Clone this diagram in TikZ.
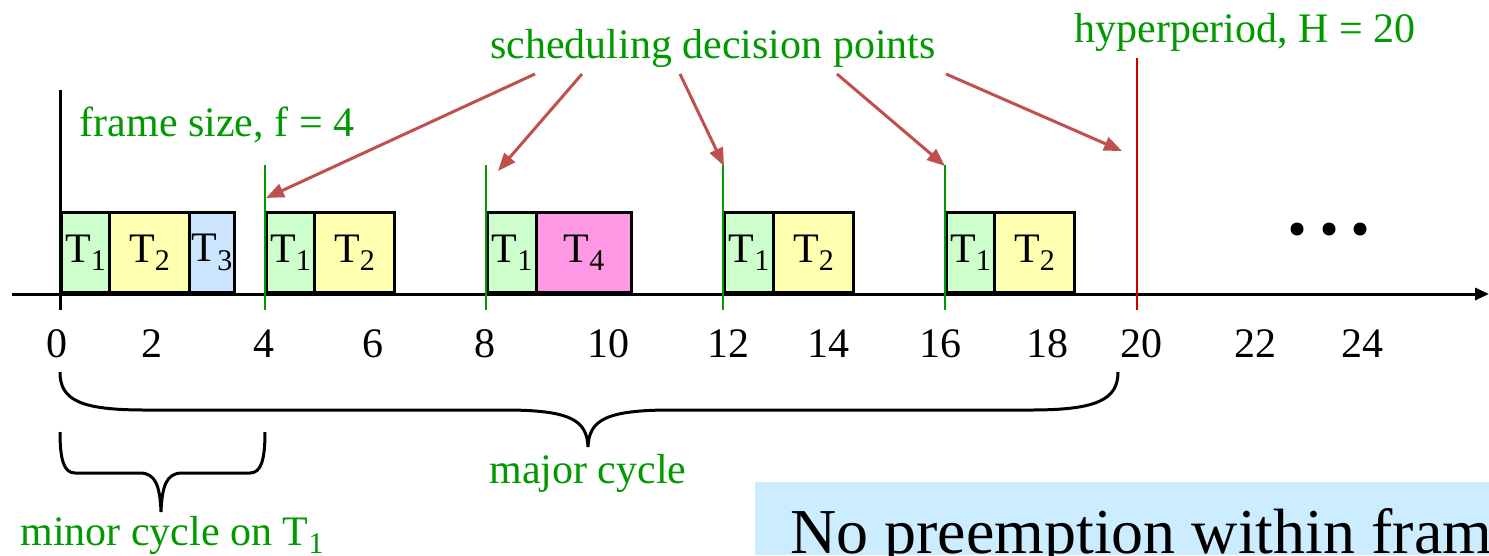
\documentclass[tikz,border=0pt]{standalone}
\usepackage{fontspec}
\setmainfont{Liberation Serif}
\usetikzlibrary{arrows.meta}
\definecolor{grn}{RGB}{0,153,0}
\definecolor{arr}{RGB}{192,80,77}
\definecolor{hred}{RGB}{204,0,0}
\definecolor{cTa}{RGB}{204,255,204}
\definecolor{cTb}{RGB}{255,255,176}
\definecolor{cTc}{RGB}{204,229,255}
\definecolor{cTd}{RGB}{255,153,230}
\definecolor{notebg}{RGB}{204,236,255}
\newcommand{\tsub}[1]{\raisebox{-0.2em}{\fontsize{30}{30}\selectfont #1}}
\begin{document}
\begin{tikzpicture}[x=1pt,y=-1pt,
  lbl/.style={font=\fontsize{42}{48}\selectfont, inner sep=0pt, anchor=base},
  glbl/.style={lbl, text=grn},
  task/.style={draw=black, line width=3pt, minimum height=80pt, anchor=south west, inner sep=0pt, font=\fontsize{42}{48}\selectfont},
  gline/.style={draw=grn, line width=2.5pt},
  rarrow/.style={draw=arr, line width=3pt, -{Triangle[length=18pt,width=14pt]}},
  brace/.style={draw=black, line width=3pt}]
\useasboundingbox (0,0) rectangle (1489,555);
\begin{scope}
\clip (0,0) rectangle (1489,555);
% note box
\fill[notebg] (755,482) rectangle (1489,555);
\node[inner sep=0pt, anchor=base west, font=\fontsize{64}{70}\selectfont] (note) at (790,553) {No preemption within fram};

% labels
\node[glbl] (sdp) at (713,58) {scheduling decision points};
\node[glbl] (hyp) at (1245,42) {hyperperiod, H = 20};
\node[glbl] (fs) at (217,136) {frame size, f = 4};

% black vertical
\coordinate (v0t) at (60,90);
\coordinate (v0b) at (60,310);
\draw[line width=3pt] (v0t) -- (v0b);

% axis
\coordinate (ax0) at (12,294);
\coordinate (ax1) at (1489,294);

% tasks
\node[task, fill=cTa, minimum width=48pt] (a1) at (60,294) {T\tsub{1}};
\node[task, fill=cTb, minimum width=80pt] (a2) at (108,294) {T\tsub{2}};
\node[task, fill=cTc, minimum width=45pt] (a3) at (188,294) {T\tsub{3}};
\node[task, fill=cTa, minimum width=48pt] (b1) at (265,294) {T\tsub{1}};
\node[task, fill=cTb, minimum width=80pt] (b2) at (313,294) {T\tsub{2}};
\node[task, fill=cTa, minimum width=49pt] (c1) at (486,294) {T\tsub{1}};
\node[task, fill=cTd, minimum width=95pt] (c4) at (535,294) {T\tsub{4}};
\node[task, fill=cTa, minimum width=49pt] (d1) at (723,294) {T\tsub{1}};
\node[task, fill=cTb, minimum width=80pt] (d2) at (772,294) {T\tsub{2}};
\node[task, fill=cTa, minimum width=48pt] (e1) at (945,294) {T\tsub{1}};
\node[task, fill=cTb, minimum width=80pt] (e2) at (993,294) {T\tsub{2}};

\draw[line width=3pt, -{Triangle[length=14pt,width=12pt]}] (ax0) -- (ax1);

% green decision lines
\coordinate (g4t) at (265,165); \coordinate (g4b) at (265,310);
\coordinate (g8t) at (486,165); \coordinate (g8b) at (486,310);
\coordinate (g12t) at (723,165); \coordinate (g12b) at (723,310);
\coordinate (g16t) at (945,165); \coordinate (g16b) at (945,310);
\draw[gline] (g4t) -- (g4b);
\draw[gline] (g8t) -- (g8b);
\draw[gline] (g12t) -- (g12b);
\draw[gline] (g16t) -- (g16b);

% hyperperiod line
\coordinate (h20t) at (1137,58); \coordinate (h20b) at (1137,310);
\draw[draw=hred, line width=2.5pt] (h20t) -- (h20b);

% red arrows
\coordinate (s1) at (535,74); \coordinate (t1) at (266,198);
\coordinate (s2) at (582,74); \coordinate (t2) at (498,171);
\coordinate (s3) at (680,74); \coordinate (t3) at (724,166);
\coordinate (s4) at (837,74); \coordinate (t4) at (945,166);
\coordinate (s5) at (946,74); \coordinate (t5) at (1122,151);
\draw[rarrow] (s1) -- (t1);
\draw[rarrow] (s2) -- (t2);
\draw[rarrow] (s3) -- (t3);
\draw[rarrow] (s4) -- (t4);
\draw[rarrow] (s5) -- (t5);

% tick labels
\node[lbl] (n0) at (57,357) {0};
\node[lbl] (n2) at (152,357) {2};
\node[lbl] (n4) at (264,357) {4};
\node[lbl] (n6) at (373,357) {6};
\node[lbl] (n8) at (485,357) {8};
\node[lbl] (n10) at (608,357) {10};
\node[lbl] (n12) at (728,357) {12};
\node[lbl] (n14) at (828,357) {14};
\node[lbl] (n16) at (940,357) {16};
\node[lbl] (n18) at (1047,357) {18};
\node[lbl] (n20) at (1141,357) {20};
\node[lbl] (n22) at (1255,357) {22};
\node[lbl] (n24) at (1362,357) {24};

% dots
\fill (1297,229) circle (6.5pt);
\fill (1329,229) circle (6.5pt);
\fill (1360,229) circle (6.5pt);

% major brace
\coordinate (mjl) at (60,372);
\coordinate (mjr) at (1118,372);
\coordinate (mjt) at (588,447);
\draw[brace] (mjl) .. controls (60,400) and (80,410) .. (145,410) -- (505,410)
  .. controls (570,410) and (587,420) .. (mjt)
  .. controls (589,420) and (606,410) .. (671,410) -- (1031,410)
  .. controls (1096,410) and (1118,400) .. (mjr);
\node[glbl] (major) at (588,483) {major cycle};

% minor brace
\coordinate (mnl) at (60,432);
\coordinate (mnr) at (265,432);
\coordinate (mnt) at (161,512);
\draw[brace] (mnl) .. controls (60,460) and (64,473) .. (75,473) -- (140,473)
  .. controls (155,473) and (160,485) .. (mnt)
  .. controls (162,485) and (167,473) .. (182,473) -- (250,473)
  .. controls (261,473) and (265,460) .. (mnr);
\node[glbl] (minor) at (172,545) {minor cycle on T\tsub{1}};
\end{scope}
\end{tikzpicture}
\end{document}
